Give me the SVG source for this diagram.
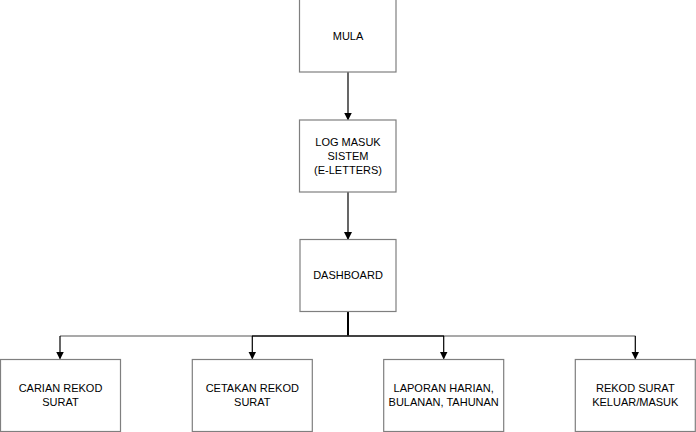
<svg xmlns="http://www.w3.org/2000/svg" width="696" height="432" viewBox="0 0 696 432">
<defs>
<marker id="ah" markerWidth="8" markerHeight="8" refX="7" refY="4" orient="auto" markerUnits="userSpaceOnUse">
<path d="M0,0 L8,4 L0,8 Z" fill="#000"/>
</marker>
<style>
.box{fill:#fff;stroke:#7f7f7f;stroke-width:1.2}
.t{font-family:"Liberation Sans",Arial,sans-serif;font-size:11px;fill:#000;text-anchor:middle}
.c{fill:none;stroke:#000;stroke-width:1.2}
.h{fill:none;stroke:#555;stroke-width:1.2}
</style>
</defs>
<rect width="696" height="432" fill="#fff"/>
<g id="connectors">
<path class="c" d="M348,72 V119.5" marker-end="url(#ah)"/>
<path class="c" d="M348,192 V239" marker-end="url(#ah)"/>
<path d="M348,312 V336" stroke="#000" stroke-width="2" fill="none"/>
<path class="h" d="M60,336 H635.5"/>
<path d="M252,336 H444" stroke="#222" stroke-width="1.6" fill="none"/>
<path class="c" d="M60,336 V358.5" marker-end="url(#ah)"/>
<path class="c" d="M252.3,336 V358.5" marker-end="url(#ah)"/>
<path class="c" d="M443.7,336 V358.5" marker-end="url(#ah)"/>
<path class="c" d="M635.3,336 V358.5" marker-end="url(#ah)"/>
</g>
<g id="mula">
<rect class="box" x="299.5" y="-1" width="96.5" height="73"/>
<text class="t" x="348" y="40">MULA</text>
</g>
<g id="log-masuk">
<rect class="box" x="299.5" y="120" width="96.5" height="72"/>
<text class="t" x="348" y="146">LOG MASUK</text>
<text class="t" x="348" y="160">SISTEM</text>
<text class="t" x="348" y="174">(E-LETTERS)</text>
</g>
<g id="dashboard">
<rect class="box" x="300" y="239.5" width="96" height="72"/>
<text class="t" x="348" y="279">DASHBOARD</text>
</g>
<g id="carian">
<rect class="box" x="0.5" y="359.5" width="120" height="72"/>
<text class="t" x="60.5" y="392">CARIAN REKOD</text>
<text class="t" x="60.5" y="406">SURAT</text>
</g>
<g id="cetakan">
<rect class="box" x="192.3" y="359.5" width="120" height="72"/>
<text class="t" x="252.3" y="392">CETAKAN REKOD</text>
<text class="t" x="252.3" y="406">SURAT</text>
</g>
<g id="laporan">
<rect class="box" x="383.7" y="359.5" width="120" height="72"/>
<text class="t" x="443.7" y="392">LAPORAN HARIAN,</text>
<text class="t" x="443.7" y="406">BULANAN, TAHUNAN</text>
</g>
<g id="rekod">
<rect class="box" x="575.3" y="359.5" width="120" height="72"/>
<text class="t" x="635.3" y="392">REKOD SURAT</text>
<text class="t" x="635.3" y="406">KELUAR/MASUK</text>
</g>
</svg>
